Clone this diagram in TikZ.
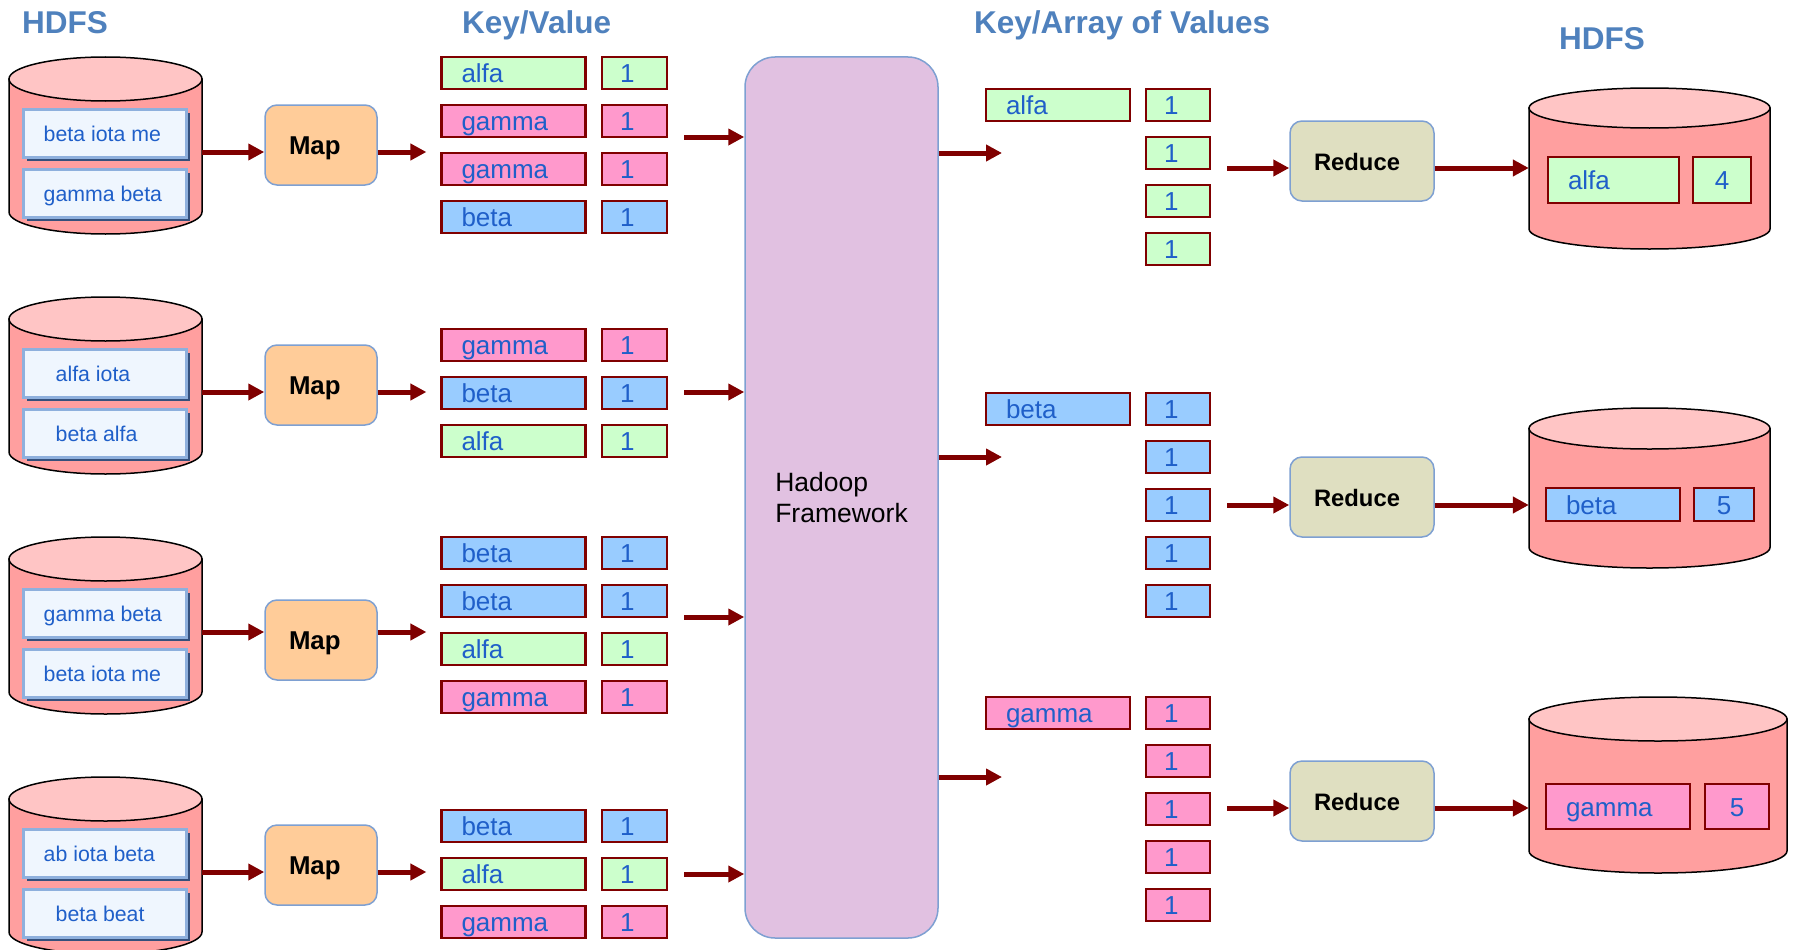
\documentclass[tikz,border=0pt]{standalone}
\usepackage{fontspec}
\setmainfont{Liberation Sans}
\usetikzlibrary{arrows.meta, shadows}

\definecolor{hdfsblue}{HTML}{4F81BD}
\definecolor{txtblue}{HTML}{1F5FC9}
\definecolor{arrowred}{HTML}{800000}
\definecolor{kvgreen}{HTML}{CCFFCC}
\definecolor{kvpink}{HTML}{FF99CC}
\definecolor{kvblue}{HTML}{99CCFF}
\definecolor{dbbody}{HTML}{FF9F9F}
\definecolor{dbtop}{HTML}{FFC5C5}
\definecolor{mapfill}{HTML}{FFCC99}
\definecolor{redfill}{HTML}{DFDFC1}
\definecolor{fwfill}{HTML}{E1C1E1}
\definecolor{edgeblue}{HTML}{7EA0D2}
\definecolor{recfill}{HTML}{EFF6FE}
\definecolor{recedge}{HTML}{8EB0DD}
\definecolor{recshadow}{HTML}{34507C}

\newcommand{\kvfont}{\fontsize{26}{30}\selectfont}
\newcommand{\recfont}{\fontsize{21.3}{25}\selectfont}

% HDFS store: name, left, top, width, height, end radius (y grows downwards)
\newcommand{\hdfsdb}[6]{%
  \filldraw[line width=1.5pt, fill=dbbody] (#2,{-(#3+#6)}) -- (#2,{-(#3+#5-#6)})
    arc[start angle=180, end angle=360, x radius={#4/2}, y radius=#6]
    -- ({#2+#4},{-(#3+#6)}) -- cycle;
  \filldraw[line width=1.5pt, fill=dbtop] ({#2+#4/2},{-(#3+#6)})
    ellipse[x radius={#4/2}, y radius=#6];
  \node[inner sep=0pt, minimum width=#4pt, minimum height=#5pt]
    (#1) at ({#2+#4/2},{-(#3+#5/2)}) {};
}

\tikzset{
  flow/.style={-{Triangle[length=16pt, width=16pt]}, draw=arrowred, line width=5pt},
  heading/.style={font=\fontsize{31.5}{36}\selectfont\bfseries, text=hdfsblue,
    inner sep=0pt, anchor=base west},
  kv/.style={draw=arrowred, line width=2.2pt, minimum height=32pt, inner ysep=0pt,
    text height=19pt, text depth=0pt, font=\kvfont, text=txtblue},
  keybox/.style={kv, text width=104pt, inner xsep=20pt, align=left},
  valbox/.style={kv, text width=29pt, inner xsep=18pt, align=left},
  outval/.style={kv, inner xsep=0pt},
  proc/.style={draw=edgeblue, line width=1.5pt, rounded corners=12pt,
    minimum height=80pt, inner ysep=0pt, inner xsep=24pt, align=left,
    text height=18.5pt, text depth=0pt},
  mapbox/.style={proc, fill=mapfill, text width=64pt,
    font=\fontsize{25.8}{30}\selectfont\bfseries},
  reducebox/.style={proc, fill=redfill, text width=96pt,
    font=\fontsize{23.8}{28}\selectfont\bfseries},
  rectext/.style={anchor=west, inner sep=0pt, text height=17pt, text depth=0pt,
    font=\recfont, text=txtblue},
  record/.style 2 args={fill=recfill, draw=recedge, line width=3pt,
    minimum width=163pt, minimum height=48pt, inner sep=0pt,
    general shadow={fill=recshadow, shadow xshift=3.5pt, shadow yshift=-3.5pt},
    label={[rectext, xshift=#1]west:#2}},
  framework/.style={draw=edgeblue, line width=1.5pt, fill=fwfill, rounded corners=30pt,
    minimum width=193pt, minimum height=881pt, align=left,
    font=\fontsize{26.5}{31}\selectfont}
}

\begin{document}
\begin{tikzpicture}[x=1pt, y=1pt]
  \useasboundingbox (0,0) rectangle (1793,-950);
  \fill[white] (0,0) rectangle (1793,-950);

  % headings
  \node[heading] (hin) at (22,-34) {HDFS};
  \node[heading] (hkv) at (462,-34) {Key/Value};
  \node[heading] (hka) at (974,-34) {Key/Array of Values};
  \node[heading] (hout) at (1559,-50) {HDFS};

  % input stores
  \hdfsdb{db1}{9}{57}{193}{177}{22}
  \hdfsdb{db2}{9}{297}{193}{177}{22}
  \hdfsdb{db3}{9}{537}{193}{177}{22}
  \hdfsdb{db4}{9}{777}{193}{177}{22}
  \node[record={22pt}{beta iota me}] (r1a) at (104.5,-133) {};
  \node[record={22pt}{gamma beta}] (r1b) at (104.5,-193) {};
  \node[record={34pt}{alfa iota}] (r2a) at (104.5,-373) {};
  \node[record={34pt}{beta alfa}] (r2b) at (104.5,-433) {};
  \node[record={22pt}{gamma beta}] (r3a) at (104.5,-613) {};
  \node[record={22pt}{beta iota me}] (r3b) at (104.5,-673) {};
  \node[record={22pt}{ab iota beta}] (r4a) at (104.5,-853) {};
  \node[record={34pt}{beta beat}] (r4b) at (104.5,-913) {};

  % mappers
  \node[mapbox] (map1) at (321,-145) {Map};
  \node[mapbox] (map2) at (321,-385) {Map};
  \node[mapbox] (map3) at (321,-640) {Map};
  \node[mapbox] (map4) at (321,-865) {Map};

  % key/value pairs
  \node[keybox, fill=kvgreen] (k1a) at (513.5,-73) {alfa};
  \node[valbox, fill=kvgreen] (v1a) at (634.5,-73) {1};
  \node[keybox, fill=kvpink] (k1b) at (513.5,-121) {gamma};
  \node[valbox, fill=kvpink] (v1b) at (634.5,-121) {1};
  \node[keybox, fill=kvpink] (k1c) at (513.5,-169) {gamma};
  \node[valbox, fill=kvpink] (v1c) at (634.5,-169) {1};
  \node[keybox, fill=kvblue] (k1d) at (513.5,-217) {beta};
  \node[valbox, fill=kvblue] (v1d) at (634.5,-217) {1};

  \node[keybox, fill=kvpink] (k2a) at (513.5,-345) {gamma};
  \node[valbox, fill=kvpink] (v2a) at (634.5,-345) {1};
  \node[keybox, fill=kvblue] (k2b) at (513.5,-393) {beta};
  \node[valbox, fill=kvblue] (v2b) at (634.5,-393) {1};
  \node[keybox, fill=kvgreen] (k2c) at (513.5,-441) {alfa};
  \node[valbox, fill=kvgreen] (v2c) at (634.5,-441) {1};

  \node[keybox, fill=kvblue] (k3a) at (513.5,-553) {beta};
  \node[valbox, fill=kvblue] (v3a) at (634.5,-553) {1};
  \node[keybox, fill=kvblue] (k3b) at (513.5,-601) {beta};
  \node[valbox, fill=kvblue] (v3b) at (634.5,-601) {1};
  \node[keybox, fill=kvgreen] (k3c) at (513.5,-649) {alfa};
  \node[valbox, fill=kvgreen] (v3c) at (634.5,-649) {1};
  \node[keybox, fill=kvpink] (k3d) at (513.5,-697) {gamma};
  \node[valbox, fill=kvpink] (v3d) at (634.5,-697) {1};

  \node[keybox, fill=kvblue] (k4a) at (513.5,-826) {beta};
  \node[valbox, fill=kvblue] (v4a) at (634.5,-826) {1};
  \node[keybox, fill=kvgreen] (k4b) at (513.5,-874) {alfa};
  \node[valbox, fill=kvgreen] (v4b) at (634.5,-874) {1};
  \node[keybox, fill=kvpink] (k4c) at (513.5,-922) {gamma};
  \node[valbox, fill=kvpink] (v4c) at (634.5,-922) {1};

  % shuffle
  \node[framework] (fw) at (841.5,-497.5) {Hadoop\\Framework};

  % key/array of values
  \node[keybox, fill=kvgreen] (ka) at (1058,-105) {alfa};
  \node[valbox, text width=28pt, fill=kvgreen] (va1) at (1178,-105) {1};
  \node[valbox, text width=28pt, fill=kvgreen] (va2) at (1178,-153) {1};
  \node[valbox, text width=28pt, fill=kvgreen] (va3) at (1178,-201) {1};
  \node[valbox, text width=28pt, fill=kvgreen] (va4) at (1178,-249) {1};

  \node[keybox, fill=kvblue] (kb) at (1058,-409) {beta};
  \node[valbox, text width=28pt, fill=kvblue] (vb1) at (1178,-409) {1};
  \node[valbox, text width=28pt, fill=kvblue] (vb2) at (1178,-457) {1};
  \node[valbox, text width=28pt, fill=kvblue] (vb3) at (1178,-505) {1};
  \node[valbox, text width=28pt, fill=kvblue] (vb4) at (1178,-553) {1};
  \node[valbox, text width=28pt, fill=kvblue] (vb5) at (1178,-601) {1};

  \node[keybox, fill=kvpink] (kg) at (1058,-713) {gamma};
  \node[valbox, text width=28pt, fill=kvpink] (vg1) at (1178,-713) {1};
  \node[valbox, text width=28pt, fill=kvpink] (vg2) at (1178,-761) {1};
  \node[valbox, text width=28pt, fill=kvpink] (vg3) at (1178,-809) {1};
  \node[valbox, text width=28pt, fill=kvpink] (vg4) at (1178,-857) {1};
  \node[valbox, text width=28pt, fill=kvpink] (vg5) at (1178,-905) {1};

  % reducers
  \node[reducebox] (red1) at (1362,-161) {Reduce};
  \node[reducebox] (red2) at (1362,-497) {Reduce};
  \node[reducebox] (red3) at (1362,-801) {Reduce};

  % output stores
  \hdfsdb{out1}{1529}{88}{241}{161}{20}
  \hdfsdb{out2}{1529}{408}{241}{160}{20.5}
  \hdfsdb{out3}{1529}{697}{258}{176}{22}
  \node[keybox, fill=kvgreen, text width=91pt, minimum height=46pt] (o1k) at (1613.5,-180) {alfa};
  \node[outval, fill=kvgreen, minimum width=58pt, minimum height=46pt] (o1v) at (1722,-180) {4};
  \node[keybox, fill=kvblue, text width=94pt, minimum height=33pt] (o2k) at (1613,-504.5) {beta};
  \node[outval, fill=kvblue, minimum width=60pt, minimum height=33pt] (o2v) at (1724,-504.5) {5};
  \node[keybox, fill=kvpink, text width=104pt, minimum height=45pt] (o3k) at (1618,-806.5) {gamma};
  \node[outval, fill=kvpink, minimum width=64pt, minimum height=45pt] (o3v) at (1737,-806.5) {5};

  % map phase
  \draw[flow] (db1.east |- 0,-152) -- (map1.west |- 0,-152);
  \draw[flow] (db2.east |- 0,-392) -- (map2.west |- 0,-392);
  \draw[flow] (db3.east |- 0,-632) -- (map3.west |- 0,-632);
  \draw[flow] (db4.east |- 0,-872) -- (map4.west |- 0,-872);
  \draw[flow, shorten >=14pt] (map1.east |- 0,-152) -- (k1a.west |- 0,-152);
  \draw[flow, shorten >=14pt] (map2.east |- 0,-392) -- (k2a.west |- 0,-392);
  \draw[flow, shorten >=14pt] (map3.east |- 0,-632) -- (k3a.west |- 0,-632);
  \draw[flow, shorten >=14pt] (map4.east |- 0,-872) -- (k4a.west |- 0,-872);

  % into the framework
  \draw[flow, shorten <=16pt] (v1b.east |- 0,-137) -- (fw.west |- 0,-137);
  \draw[flow, shorten <=16pt] (v2b.east |- 0,-392) -- (fw.west |- 0,-392);
  \draw[flow, shorten <=16pt] (v3b.east |- 0,-617) -- (fw.west |- 0,-617);
  \draw[flow, shorten <=16pt] (v4b.east |- 0,-874) -- (fw.west |- 0,-874);

  % out of the framework
  \coordinate (ta) at (1002,-153);
  \coordinate (tb) at (1002,-457);
  \coordinate (tg) at (1002,-777);
  \draw[flow] (fw.east |- ta) -- (ta);
  \draw[flow] (fw.east |- tb) -- (tb);
  \draw[flow] (fw.east |- tg) -- (tg);

  % reduce phase
  \draw[flow, shorten <=16pt] (va3.east |- 0,-168) -- (red1.west |- 0,-168);
  \draw[flow, shorten <=16pt] (vb3.east |- 0,-505) -- (red2.west |- 0,-505);
  \draw[flow, shorten <=16pt] (vg3.east |- 0,-808) -- (red3.west |- 0,-808);
  \draw[flow] (red1.east |- 0,-168) -- (out1.west |- 0,-168);
  \draw[flow] (red2.east |- 0,-505) -- (out2.west |- 0,-505);
  \draw[flow] (red3.east |- 0,-808) -- (out3.west |- 0,-808);
\end{tikzpicture}
\end{document}
